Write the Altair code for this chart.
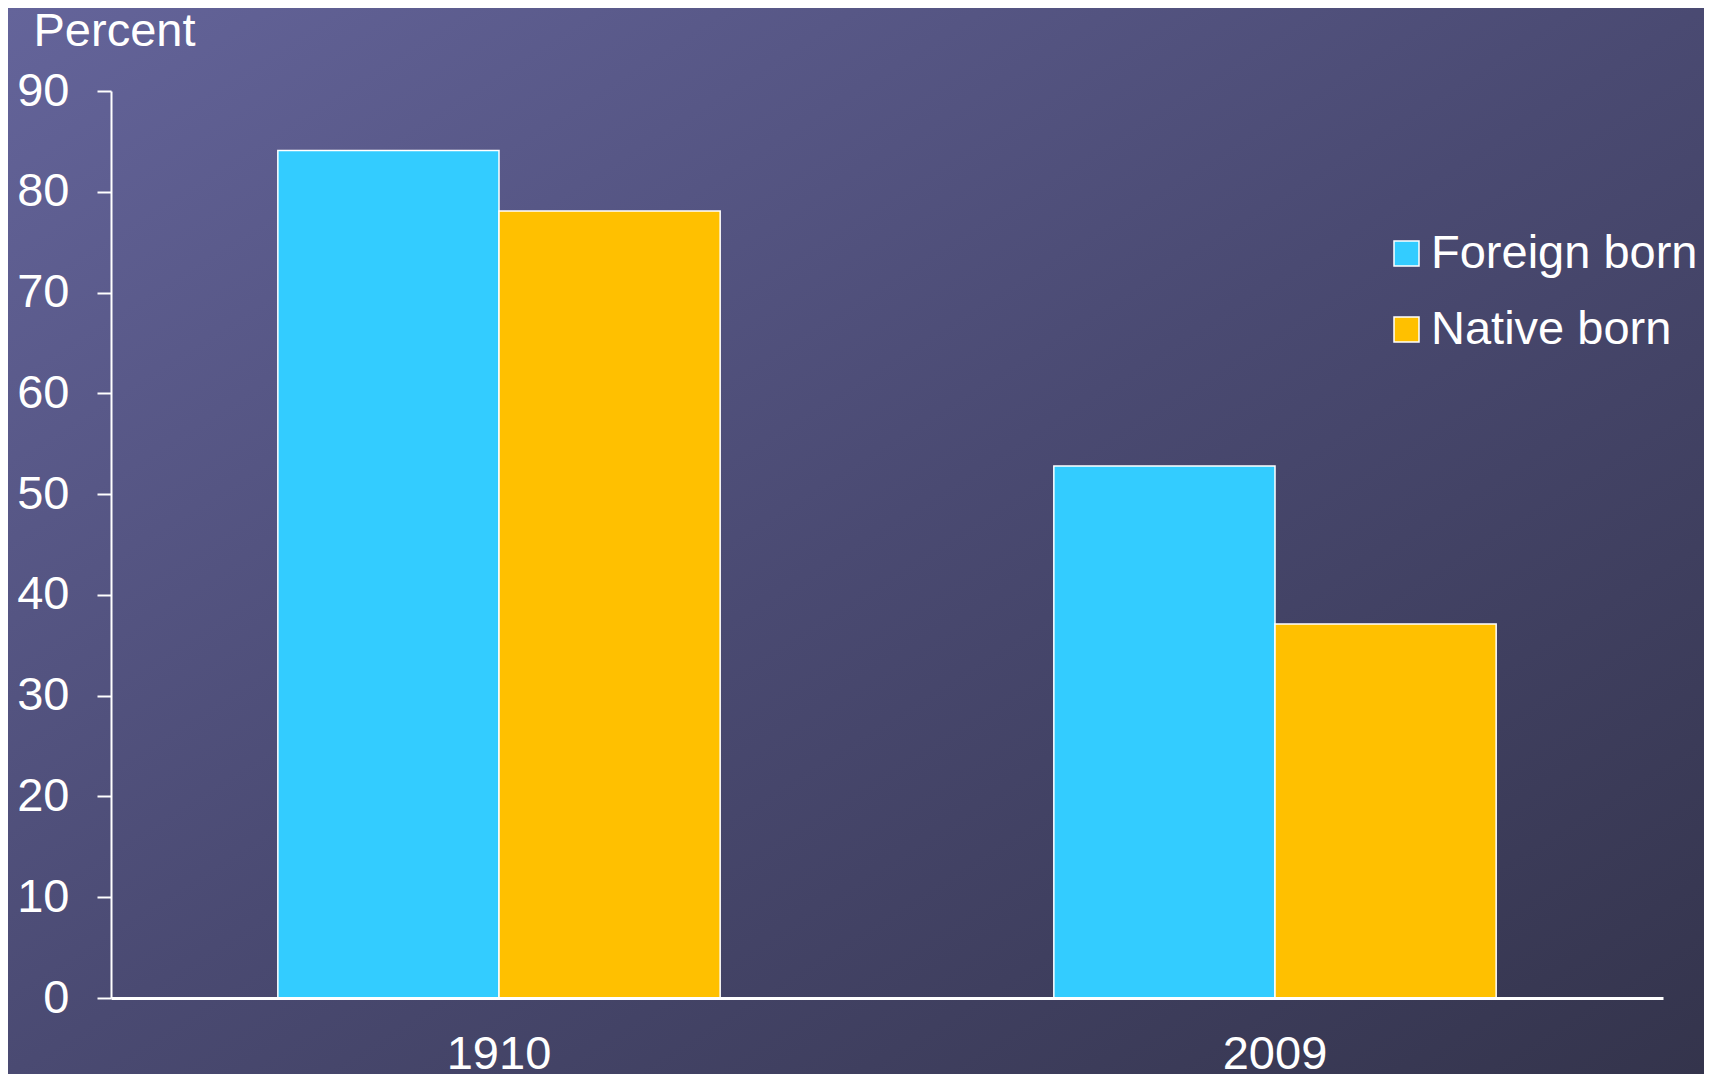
import altair as alt
import pandas as pd

years = ["1910", "2009"]
groups = ["Foreign born", "Native born"]
foreign = [84.1, 52.8]
native = [78.1, 37.1]
colors = ["#33CCFF", "#FFC000"]
y_ticks = [0, 10, 20, 30, 40, 50, 60, 70, 80, 90]

rows = []
for i, yr in enumerate(years):
    rows.append({"year": yr, "group": groups[0], "value": foreign[i]})
    rows.append({"year": yr, "group": groups[1], "value": native[i]})
df = pd.DataFrame(rows)

W, H = 1552, 907
PAD = {"left": 103, "top": 83, "right": 41, "bottom": 76}
FONT = "Liberation Sans"
FS = 47

bg = alt.Chart(pd.DataFrame({"a": [0]})).mark_rect(
    fill=alt.Gradient(
        gradient="linear",
        stops=[alt.GradientStop(color="#64649a", offset=0),
               alt.GradientStop(color="#4a4a72", offset=0.5),
               alt.GradientStop(color="#34344c", offset=1)],
        x1=0, y1=0, x2=1, y2=1),
).encode(
    x=alt.value(-PAD["left"]), x2=alt.value(W + PAD["right"]),
    y=alt.value(-PAD["top"]), y2=alt.value(H + PAD["bottom"]),
)

bars = alt.Chart(df).mark_bar(stroke="white", strokeWidth=1.5, opacity=1).encode(
    x=alt.X("year:N", sort=years,
            scale=alt.Scale(paddingInner=0.43, paddingOuter=0.215),
            axis=alt.Axis(title=None, labelAngle=0, labelFont=FONT, labelFontSize=FS,
                          labelColor="white", labelPadding=33, ticks=False,
                          domainColor="white", domainWidth=3, zindex=2)),
    xOffset=alt.XOffset("group:N", sort=groups),
    y=alt.Y("value:Q", scale=alt.Scale(domain=[0, 90], nice=False),
            axis=alt.Axis(values=y_ticks, title="Percent", titleAngle=0,
                          titleX=-78, titleY=-46, titleAlign="left",
                          titleBaseline="alphabetic",
                          titleFont=FONT, titleFontSize=FS, titleFontWeight="normal",
                          titleColor="white",
                          labelFont=FONT, labelFontSize=FS, labelColor="white",
                          labelPadding=28, tickSize=14, tickColor="white", tickWidth=2,
                          domainColor="white", domainWidth=2, grid=False, zindex=2)),
    color=alt.Color("group:N", sort=groups,
                    scale=alt.Scale(domain=groups, range=colors),
                    legend=alt.Legend(title=None, orient="none", legendX=1272, legendY=139,
                                      symbolType="square", symbolSize=625,
                                      symbolStrokeColor="white", symbolStrokeWidth=1.5,
                                      symbolOpacity=1,
                                      labelFont=FONT, labelFontSize=FS, labelColor="white",
                                      labelOffset=1, rowPadding=28, labelLimit=400)),
)

chart = alt.layer(bg, bars).properties(
    width=W, height=H, padding=PAD, autosize=alt.AutoSizeParams(type="none"),
    background="#4c4c72",
).configure_view(stroke=None)

chart.save("out.html", embed_options={"renderer": "svg", "actions": False})
